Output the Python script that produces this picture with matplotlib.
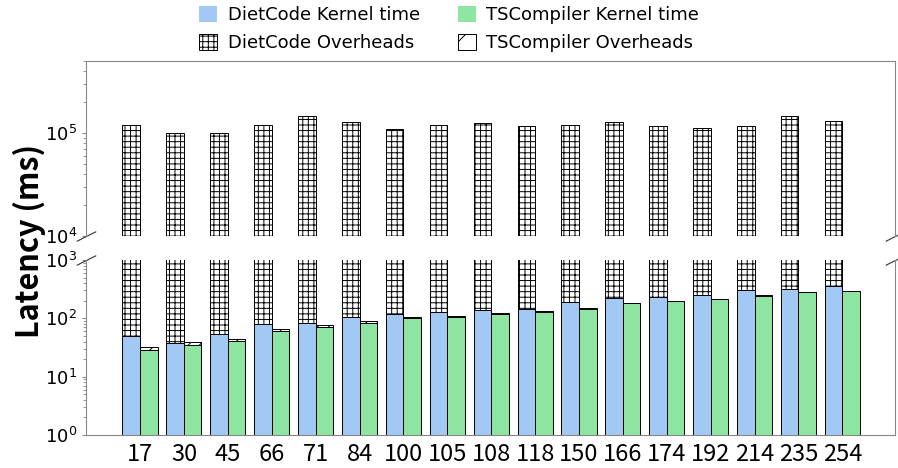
import matplotlib
matplotlib.use("Agg")
import matplotlib.pyplot as plt
from matplotlib.patches import Patch
import numpy as np

# sequence lengths on the x axis
seq_lens = ["17", "30", "45", "66", "71", "84", "100", "105", "108", "118",
            "150", "166", "174", "192", "214", "235", "254"]

# kernel time (ms)
dietcode_kernel = [50, 38, 54, 81, 84, 104, 120, 126, 141, 143,
                   188, 220, 235, 254, 303, 314, 355]
tscompiler_kernel = [29, 35, 41, 61, 71, 83, 101, 104, 118, 128,
                     144, 181, 196, 212, 245, 280, 291]

# overheads (ms)
dietcode_overhead = [119000, 100000, 100000, 119000, 145000, 128000, 109000, 120000, 125000, 117000,
                     120000, 128000, 117000, 112000, 117000, 145000, 130000]
tscompiler_overhead = [3, 5, 4, 4, 5, 7, 3, 7, 5, 4,
                       6, 4, 2, 2, 3, 3, 3]

blue = "#a1c9f4"
green = "#8de5a1"
spine_col = "#888888"

plt.rcParams['hatch.linewidth'] = 0.7

fig = plt.figure(figsize=(8.98, 4.68), dpi=100)
ax_top = fig.add_axes([0.0958, 0.4957, 0.9009, 0.374])
ax_bot = fig.add_axes([0.0958, 0.0705, 0.9009, 0.374])

x = np.arange(len(seq_lens))
w = 0.4

for ax in (ax_top, ax_bot):
    ax.bar(x - w / 2, dietcode_kernel, w, color=blue, edgecolor="black", linewidth=0.7)
    ax.bar(x - w / 2, dietcode_overhead, w, bottom=dietcode_kernel, color="white",
           edgecolor="black", hatch="+++", linewidth=0.7)
    ax.bar(x + w / 2, tscompiler_kernel, w, color=green, edgecolor="black", linewidth=0.7)
    ax.bar(x + w / 2, tscompiler_overhead, w, bottom=tscompiler_kernel, color="white",
           edgecolor="black", hatch="///", linewidth=0.7)
    ax.set_yscale("log")
    ax.set_xlim(-1.23, 17.2)
    for s in ax.spines.values():
        s.set_color(spine_col)
    ax.tick_params(axis="y", which="both", colors=spine_col, labelcolor="black",
                   labelsize=13, direction="out")
    ax.tick_params(axis="y", which="major", length=3)
    ax.tick_params(axis="y", which="minor", length=2)

ax_top.set_ylim(1e4, 5e5)
ax_bot.set_ylim(1, 1000)

ax_top.spines["bottom"].set_visible(False)
ax_bot.spines["top"].set_visible(False)
ax_top.set_xticks([])
ax_top.set_yticks([1e4, 1e5])

ax_bot.set_xticks(x)
ax_bot.set_xticklabels(seq_lens, fontsize=17, family=["Noto Sans CJK SC", "DejaVu Sans"])
ax_bot.tick_params(axis="x", length=0, pad=6)
ax_bot.set_yticks([1, 10, 100, 1000])

# break marks
d = 0.5
kw = dict(marker=[(-1, -d), (1, d)], markersize=14, linestyle="none",
          color="#333333", mec="#333333", mew=0.8, clip_on=False)
ax_top.plot([0, 1], [0, 0], transform=ax_top.transAxes, **kw)
ax_bot.plot([0, 1], [1, 1], transform=ax_bot.transAxes, **kw)

fig.text(0.033, 0.485, "Latency (ms)", rotation=90, va="center", ha="center",
         fontsize=22, fontweight="bold", family=["Noto Sans CJK SC", "DejaVu Sans"])

handles = [
    Patch(facecolor=blue, edgecolor="none", label="DietCode Kernel time"),
    Patch(facecolor="white", edgecolor="black", hatch="+++", linewidth=0.7, label="DietCode Overheads"),
    Patch(facecolor=green, edgecolor="none", label="TSCompiler Kernel time"),
    Patch(facecolor="white", edgecolor="black", hatch="/", linewidth=0.7, label="TSCompiler Overheads"),
]
fig.legend(handles=handles, ncol=2, loc="upper center", bbox_to_anchor=(0.5, 1.022),
           frameon=False, fontsize=13, handlelength=1.0, handleheight=1.0,
           handletextpad=0.6, columnspacing=2.1, labelspacing=0.55)

fig.savefig("out.png", dpi=100)
